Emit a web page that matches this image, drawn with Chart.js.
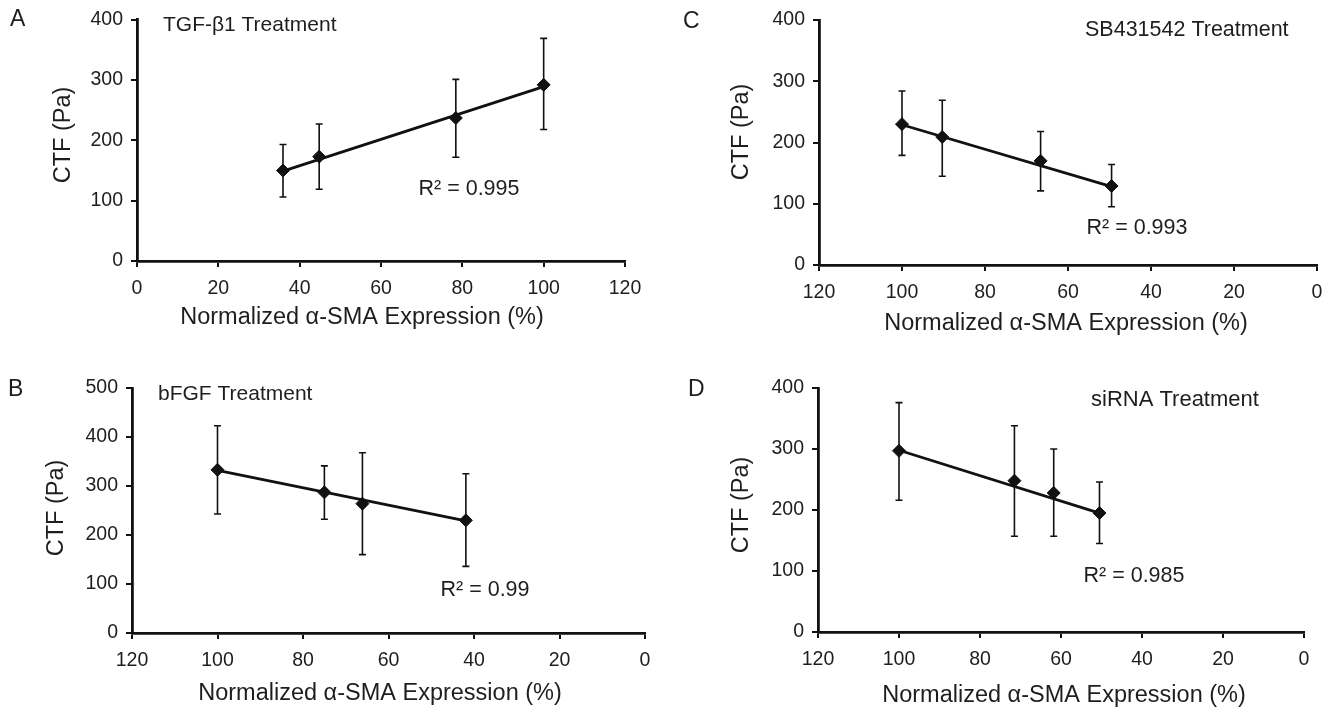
<!DOCTYPE html>
<html>
<head>
<meta charset="utf-8">
<title>CTF vs α-SMA</title>
<script src="https://cdn.jsdelivr.net/npm/chart.js@4.4.1/dist/chart.umd.min.js"></script>
<style>
    html, body { margin: 0; padding: 0; background: #fff; }
    body { width: 1333px; height: 713px; position: relative; overflow: hidden; }
    canvas { position: absolute; }
</style>
</head>
<body>
<canvas id="chartA" width="666" height="350" style="left:0;top:0"></canvas>
<canvas id="chartC" width="667" height="350" style="left:666px;top:0"></canvas>
<canvas id="chartB" width="666" height="363" style="left:0;top:350px"></canvas>
<canvas id="chartD" width="667" height="363" style="left:666px;top:350px"></canvas>
<script>
// A - TGF-β1
const aSma = [35.9, 44.8, 78.4, 100];
const aCtf = [150, 173, 237, 292];
const aLow = [106, 119, 172, 218];
const aHigh = [193, 227, 301, 369];
const aFitX = [35.9, 100];
const aFitY = [149, 289];

// B - bFGF
const bSma = [100, 75, 66.1, 41.9];
const bCtf = [333, 287, 264, 230];
const bLow = [243, 232, 160, 136];
const bHigh = [423, 341, 368, 325];
const bFitX = [100, 41.9];
const bFitY = [332, 229];

// C - SB431542
const cSma = [100, 90.3, 66.6, 49.5];
const cCtf = [230, 209, 170, 129];
const cLow = [179, 145, 121, 95];
const cHigh = [284, 269, 218, 164];
const cFitX = [100, 49.5];
const cFitY = [229, 128];

// D - siRNA
const dSma = [100, 71.5, 61.8, 50.5];
const dCtf = [297, 248, 228, 195];
const dLow = [216, 157, 157, 145];
const dHigh = [376, 338, 300, 246];
const dFitX = [100, 50.5];
const dFitY = [298, 195];

const xTicks = [0, 20, 40, 60, 80, 100, 120];
const xTitle = 'Normalized α-SMA Expression (%)';
const yTitle = 'CTF (Pa)';

const FONT = '"Liberation Sans", Arial, Helvetica, sans-serif';
const INK = '#111';
const TXT = '#1e1e1e';

function errorBarsPlugin(xs, lo, hi) {
    return {
        id: 'errorBars',
        beforeDatasetsDraw(chart) {
            const { ctx, scales: { x, y } } = chart;
            ctx.save();
            ctx.strokeStyle = INK;
            ctx.lineWidth = 1.6;
            xs.forEach((v, i) => {
                const px = x.getPixelForValue(v);
                const top = y.getPixelForValue(hi[i]);
                const bot = y.getPixelForValue(lo[i]);
                ctx.beginPath();
                ctx.moveTo(px, top); ctx.lineTo(px, bot);
                ctx.moveTo(px - 3.5, top); ctx.lineTo(px + 3.5, top);
                ctx.moveTo(px - 3.5, bot); ctx.lineTo(px + 3.5, bot);
                ctx.stroke();
            });
            ctx.restore();
        }
    };
}

function textPlugin(t) {
    return {
        id: 'panelText',
        afterDraw(chart) {
            const ctx = chart.ctx;
            ctx.save();
            ctx.fillStyle = TXT;
            ctx.textBaseline = 'middle';

            ctx.textAlign = 'left';
            ctx.font = '23px ' + FONT;
            ctx.fillText(t.letter, t.letterAt[0], t.letterAt[1]);

            ctx.font = t.titleSize + 'px ' + FONT;
            ctx.fillText(t.title, t.titleAt[0], t.titleAt[1]);

            ctx.textAlign = 'center';
            ctx.font = '21.5px ' + FONT;
            ctx.fillText('R² = ' + t.r2, t.r2At[0], t.r2At[1]);

            ctx.font = '23.5px ' + FONT;
            ctx.fillText(xTitle, t.xTitleAt[0], t.xTitleAt[1]);

            ctx.translate(t.yTitleAt[0], t.yTitleAt[1]);
            ctx.rotate(-Math.PI / 2);
            ctx.fillText(yTitle, 0, 0);
            ctx.restore();
        }
    };
}

function buildPanel(id, p) {
    const pts = p.sma.map((v, i) => ({ x: v, y: p.ctf[i] }));
    const fit = p.fitX.map((v, i) => ({ x: v, y: p.fitY[i] }));
    const tickFont = { size: 19.5, family: FONT };

    return new Chart(document.getElementById(id), {
        type: 'scatter',
        data: {
            datasets: [
                {
                    type: 'line',
                    data: fit,
                    borderColor: INK,
                    borderWidth: 2.8,
                    pointRadius: 0,
                    fill: false,
                    order: 2
                },
                {
                    data: pts,
                    pointStyle: 'rectRot',
                    pointRadius: 6.5,
                    backgroundColor: INK,
                    borderColor: INK,
                    borderWidth: 1,
                    order: 1
                }
            ]
        },
        options: {
            responsive: false,
            animation: false,
            layout: { padding: p.pad },
            plugins: {
                legend: { display: false },
                tooltip: { enabled: false }
            },
            scales: {
                x: {
                    type: 'linear',
                    min: 0,
                    max: 120,
                    reverse: p.reverse,
                    afterBuildTicks: s => { s.ticks = xTicks.map(v => ({ value: v })); },
                    ticks: { color: TXT, font: tickFont, padding: 10, maxRotation: 0 },
                    grid: { drawOnChartArea: false, drawTicks: true, tickLength: 6, color: INK, lineWidth: 2 },
                    border: { color: INK, width: 2.8 },
                    afterFit: s => { s.height = p.xH; }
                },
                y: {
                    type: 'linear',
                    min: 0,
                    max: p.yMax,
                    ticks: { stepSize: 100, color: TXT, font: tickFont, padding: 8 },
                    grid: { drawOnChartArea: false, drawTicks: true, tickLength: 6, color: INK, lineWidth: 2 },
                    border: { color: INK, width: 2.8 },
                    afterFit: s => { s.width = p.yW; }
                }
            }
        },
        plugins: [errorBarsPlugin(p.sma, p.low, p.high), textPlugin(p.text)]
    });
}

buildPanel('chartA', {
    sma: aSma, ctf: aCtf, low: aLow, high: aHigh, fitX: aFitX, fitY: aFitY,
    reverse: false, yMax: 400,
    pad: { left: 0, top: 19, right: 41, bottom: 0 }, yW: 137, xH: 89,
    text: {
        letter: 'A', letterAt: [10, 20],
        title: 'TGF-β1 Treatment', titleSize: 21, titleAt: [163, 25],
        r2: '0.995', r2At: [469, 189],
        xTitleAt: [362, 318], yTitleAt: [64, 135]
    }
});

buildPanel('chartC', {
    sma: cSma, ctf: cCtf, low: cLow, high: cHigh, fitX: cFitX, fitY: cFitY,
    reverse: true, yMax: 400,
    pad: { left: 0, top: 20, right: 16, bottom: 0 }, yW: 153, xH: 85,
    text: {
        letter: 'C', letterAt: [17, 22],
        title: 'SB431542 Treatment', titleSize: 21.5, titleAt: [419, 30],
        r2: '0.993', r2At: [471, 228],
        xTitleAt: [400, 324], yTitleAt: [76, 132]
    }
});

buildPanel('chartB', {
    sma: bSma, ctf: bCtf, low: bLow, high: bHigh, fitX: bFitX, fitY: bFitY,
    reverse: true, yMax: 500,
    pad: { left: 0, top: 38, right: 21, bottom: 0 }, yW: 132, xH: 80,
    text: {
        letter: 'B', letterAt: [8, 40],
        title: 'bFGF Treatment', titleSize: 21, titleAt: [158, 44],
        r2: '0.99', r2At: [485, 240],
        xTitleAt: [380, 344], yTitleAt: [57, 158]
    }
});

buildPanel('chartD', {
    sma: dSma, ctf: dCtf, low: dLow, high: dHigh, fitX: dFitX, fitY: dFitY,
    reverse: true, yMax: 400,
    pad: { left: 0, top: 38, right: 29, bottom: 0 }, yW: 152, xH: 81,
    text: {
        letter: 'D', letterAt: [22, 40],
        title: 'siRNA Treatment', titleSize: 22, titleAt: [425, 50],
        r2: '0.985', r2At: [468, 226],
        xTitleAt: [398, 346], yTitleAt: [76, 155]
    }
});
</script>
</body>
</html>
